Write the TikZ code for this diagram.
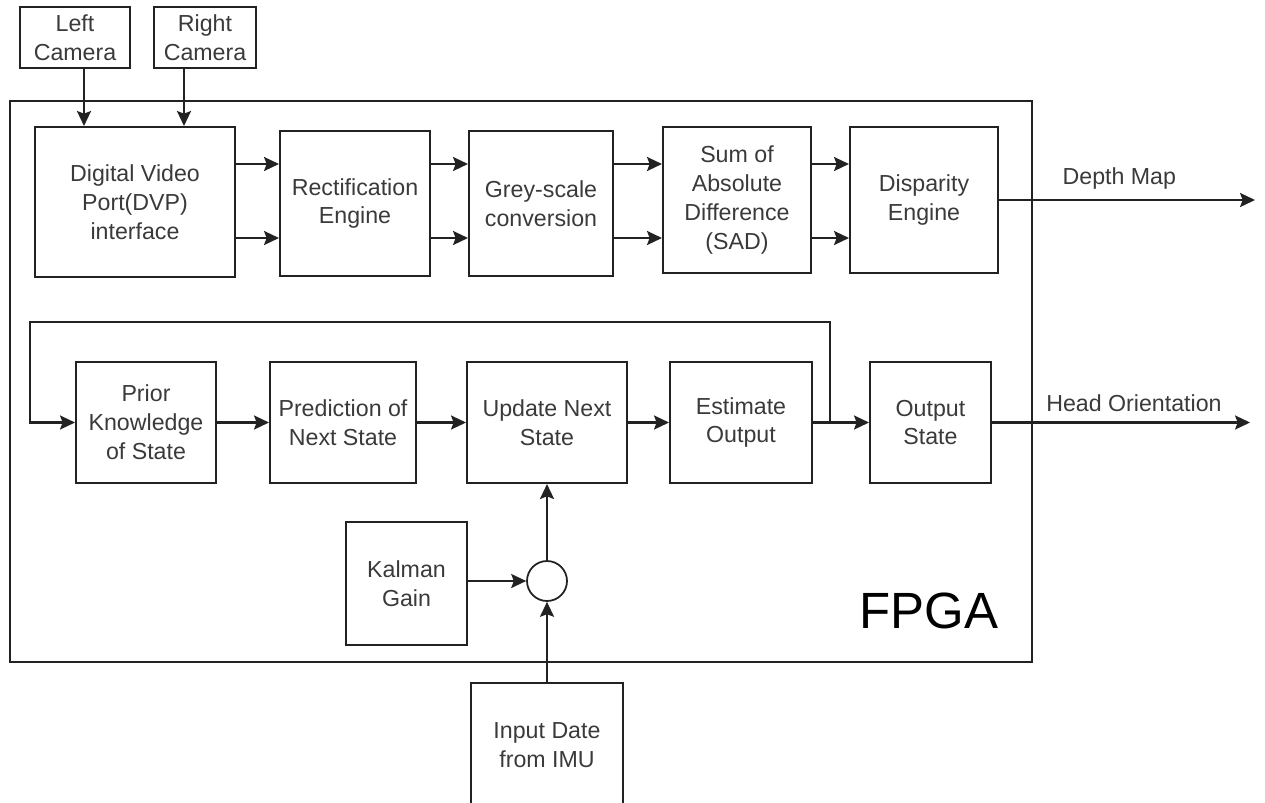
\documentclass[tikz,border=0pt]{standalone}
\usepackage{fontspec}
\setmainfont{Liberation Sans}
\usetikzlibrary{arrows.meta}
\definecolor{txt}{HTML}{3A3A3A}
\definecolor{ln}{HTML}{222222}
\tikzset{
  blk/.style={draw=ln, line width=1.2pt, align=center, inner sep=0pt, text=txt,
    font=\fontsize{13.2}{16.4}\selectfont},
  arr/.style={draw=ln, line width=1.2pt, -{Stealth[length=8.5pt,width=8pt,inset=1.5pt]}},
  lbl/.style={text=txt, font=\fontsize{13.2}{16.4}\selectfont}
}
\begin{document}
\begin{tikzpicture}[x=0.02cm, y=-0.02cm]
		\useasboundingbox (0,0) rectangle (1265,802);
		% FPGA frame
		\draw [ln, line width=1pt] (10,101) rectangle (1032,662);
		\node [font=\fontsize{29}{33}\selectfont] (fpga) at (929,611) {FPGA};
		% cameras
		\node [blk, minimum width=2.2cm, minimum height=1.22cm] (lcam) at (75,37.5) {Left\\Camera};
		\node [blk, minimum width=2.04cm, minimum height=1.22cm] (rcam) at (205,37.5) {Right\\Camera};
		% stereo pipeline
		\node [blk, minimum width=4cm, minimum height=3cm] (dvp) at (135,202) {Digital Video\\Port(DVP)\\interface};
		\node [blk, minimum width=3cm, minimum height=2.9cm] (rect) at (355,203.5) {Rectification\\Engine};
		\node [blk, minimum width=2.88cm, minimum height=2.9cm] (grey) at (541,203.5) {Grey-scale\\conversion};
		\node [blk, minimum width=2.96cm, minimum height=2.92cm] (sad) at (737,200) {Sum of\\Absolute\\Difference\\(SAD)};
		\node [blk, minimum width=2.96cm, minimum height=2.92cm] (disp) at (924,200) {Disparity\\Engine};
		% kalman filter chain
		\node [blk, minimum width=2.8cm, minimum height=2.42cm] (prior) at (146,422.5) {Prior\\Knowledge\\of State};
		\node [blk, minimum width=2.92cm, minimum height=2.42cm] (pred) at (343,422.5) {Prediction of\\Next State};
		\node [blk, minimum width=3.2cm, minimum height=2.42cm] (upd) at (547,422.5) {Update Next\\State};
		\node [blk, minimum width=2.84cm, minimum height=2.42cm] (est) at (741,422.5) {Estimate\\Output};
		\node [blk, minimum width=2.42cm, minimum height=2.42cm] (outs) at (930.5,422.5) {Output\\State};
		\node [blk, minimum width=2.42cm, minimum height=2.46cm] (kal) at (406.5,583.5) {Kalman\\Gain};
		\node [blk, circle, line width=1pt, minimum size=0.8cm] (sum) at (547,581) {};
		\node [blk, minimum width=3.04cm, minimum height=2.48cm] (imu) at (547,745) {Input Date\\from IMU};
		% helper coordinates
		\coordinate (lx) at (84,0);
		\coordinate (rx) at (184,0);
		\coordinate (ya) at (0,164);
		\coordinate (yb) at (0,238);
		\coordinate (dend) at (1255,0);
		\coordinate (hend) at (1250,0);
		\coordinate (tap) at (830,422.5);
		\coordinate (fbtop) at (830,322);
		\coordinate (fbleft) at (30,322);
		% camera inputs
		\draw [arr] (lcam.south -| lx) -- (dvp.north -| lx);
		\draw [arr] (rcam.south -| rx) -- (dvp.north -| rx);
		% two channels between the stages
		\foreach \a/\b in {dvp/rect, rect/grey, grey/sad, sad/disp}{
			\draw [arr] (\a.east |- ya) -- (\b.west |- ya);
			\draw [arr] (\a.east |- yb) -- (\b.west |- yb);
		}
		\draw [arr] (disp.east) -- (disp.east -| dend) node [lbl, pos=0.47, above=2pt] {Depth Map};
		% filter loop
		\draw [arr] (prior) -- (pred);
		\draw [arr] (pred) -- (upd);
		\draw [arr] (upd) -- (est);
		\draw [arr] (est) -- (outs);
		\draw [arr] (tap) -- (fbtop) -- (fbleft) |- (prior.west);
		\draw [arr] (outs.east) -- (outs.east -| hend) node [lbl, pos=0.55, above=2pt] {Head Orientation};
		% gain and measurement
		\draw [arr] (kal.east |- sum) -- (sum.west);
		\draw [arr] (imu.north) -- (sum.south);
		\draw [arr] (sum.north) -- (upd.south);
	\end{tikzpicture}
\end{document}
